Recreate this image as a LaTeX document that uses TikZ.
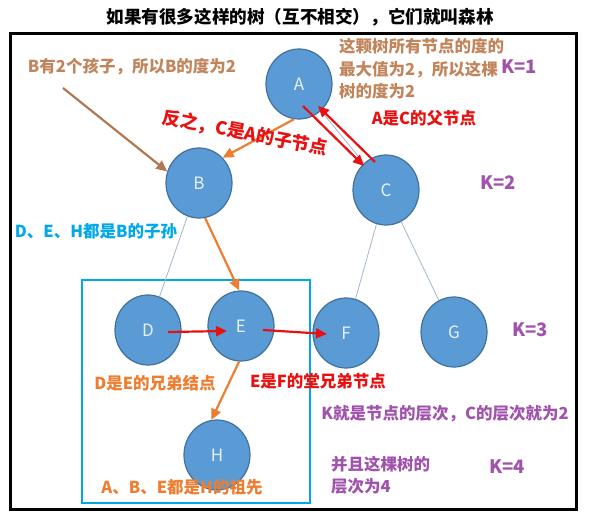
\documentclass[tikz,border=0pt]{standalone}
\usepackage{fontspec}
\setmainfont{Noto Sans CJK SC}
\usetikzlibrary{shapes.geometric,arrows.meta,calc}
\definecolor{nodeblue}{RGB}{91,155,213}
\definecolor{nodeedge}{RGB}{65,113,156}
\definecolor{edgegray}{RGB}{165,182,204}
\definecolor{tanbrown}{RGB}{193,133,92}
\definecolor{arrowbrown}{RGB}{178,120,82}
\definecolor{hotred}{RGB}{232,16,16}
\definecolor{orangeline}{RGB}{237,125,49}
\definecolor{levelpurple}{RGB}{160,82,172}
\definecolor{boxcyan}{RGB}{0,168,232}

\begin{document}
\begin{tikzpicture}[x=1pt,y=-1pt,
  treenode/.style={ellipse,draw=nodeedge,line width=1.2pt,fill=nodeblue,
    minimum width=66pt,minimum height=70pt,inner sep=0pt,
    text=white!85!nodeblue,font=\fontsize{17}{17}\selectfont},
  note/.style={font=\fontsize{16.5}{22.5}\selectfont\bfseries,inner sep=0pt},
  levelmark/.style={note,text=levelpurple,font=\fontsize{18.5}{20}\selectfont\bfseries},
  treeline/.style={edgegray,line width=0.8pt},
  hint/.style={line width=2.2pt,-{Triangle[length=11pt,width=10pt]}}]
\useasboundingbox (0,0) rectangle (591,514);

% Title and frame
\node[note,font=\fontsize{17.6}{20}\selectfont\bfseries] (title) at (300,17) {如果有很多这样的树（互不相交），它们就叫森林};
\draw[line width=3pt] (10,33) rectangle (576,509);

% Subtree box
\draw[boxcyan,line width=2.5pt] (82,280) rectangle (310,503);

% Tree nodes
\node[treenode] (A) at (299,84) {A};
\node[treenode] (B) at (199,183) {B};
\node[treenode] (C) at (386,190) {C};
\node[treenode] (D) at (148,330) {D};
\node[treenode] (E) at (241,326) {E};
\node[treenode] (F) at (346,333) {F};
\node[treenode] (G) at (454,332) {G};
\node[treenode] (H) at (217,455) {H};

% Tree edges (A-B, B-E, E-H lie under the orange arrows)
\draw[treeline] (A) -- (C);
\draw[treeline] (B) -- (D);
\draw[treeline] (C) -- (F);
\draw[treeline] (C) -- (G);

% Degree of B
\node[note,text=tanbrown] (degB) at (132,67) {B有2个孩子，所以B的度为2};
\coordinate (degBtail) at (63,88);
\draw[hint,arrowbrown] (degBtail) -- (B.160);

% Degree of the tree
\node[note,text=tanbrown,align=left,anchor=west] (degT) at (339,69)
  {这颗树所有节点的度的\\最大值为2，所以这棵\\树的度为2};

% Parent and child
\draw[hint,orangeline] (A.262) -- (B.47);
\node[note,text=hotred,rotate=-11,font=\fontsize{18}{20}\selectfont\bfseries] (child) at (245,133) {反之，C是A的子节点};
\draw[hint,hotred] ($(A)+(4,22)$) -- ($(C)+(-22,-24)$);
\draw[hint,hotred] ($(C)+(-11,-28)$) -- ($(A)+(19,22)$);
\node[note,text=hotred] (parent) at (424,118) {A是C的父节点};

% Descendants, siblings, cousins
\node[note,text=boxcyan] (desc) at (96,231) {D、E、H都是B的子孙};
\draw[hint,orangeline] (B.-80) -- (E.93);
\draw[hint,hotred] ($(D)+(20,2)$) -- ($(E)+(-14,5)$);
\draw[hint,hotred] ($(E)+(22,4)$) -- ($(F)+(-19,1)$);
\node[note,text=orangeline] (sib) at (155,383) {D是E的兄弟结点};
\node[note,text=hotred] (cousin) at (318,381) {E是F的堂兄弟节点};
\draw[hint,orangeline] (E.-93) -- (H.99);
\node[note,text=orangeline] (anc) at (182,487) {A、B、E都是H的祖先};

% Levels
\node[levelmark] (k1) at (519,67) {K=1};
\node[levelmark] (k2) at (498,183) {K=2};
\node[levelmark] (k3) at (530,330) {K=3};
\node[levelmark] (k4) at (507,467) {K=4};
\node[note,text=levelpurple] (level) at (445,414) {K就是节点的层次，C的层次就为2};
\node[note,text=levelpurple,align=left,anchor=west] (depth) at (331,475)
  {并且这棵树的\\层次为4};
\end{tikzpicture}
\end{document}
